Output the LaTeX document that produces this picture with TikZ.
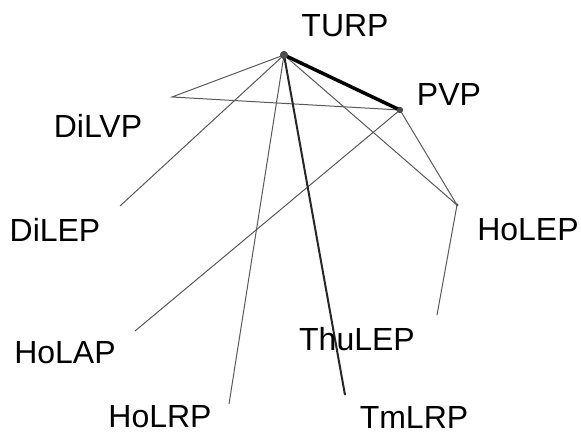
\documentclass[tikz,border=0pt]{standalone}
\usepackage{fontspec}
\setmainfont{Liberation Sans}
\begin{document}
\begin{tikzpicture}[x=1pt,y=-1pt,
  edge/.style={draw=black!65,line width=1pt},
  heavy/.style={draw=black,line width=3.5pt},
  mid/.style={draw=black!85,line width=2pt},
  vtx/.style={circle,fill=black!70,inner sep=0pt},
  lab/.style={font=\fontsize{32}{32}\selectfont,inner sep=0pt,anchor=center}]
\useasboundingbox (0,0) rectangle (581,443);
% vertices
\node[vtx,minimum size=8pt] (turp) at (284,55) {};
\node[vtx,minimum size=6pt] (pvp) at (400,110) {};
\node[vtx,minimum size=3pt] (holep) at (457,205) {};
\coordinate (dilvp) at (172,97);
\coordinate (dilep) at (120,206);
\coordinate (holap) at (135,331);
\coordinate (thulep) at (437,315);
\coordinate (tmlrp) at (345,395);
\coordinate (holrp) at (229,404);
% edges
\draw[edge] (turp.center) -- (dilvp) -- (pvp.center);
\draw[edge] (turp.center) -- (dilep);
\draw[edge] (turp.center) -- (holrp);
\draw[edge] (turp.center) -- (holep.center);
\draw[edge] (pvp.center) -- (holep.center);
\draw[edge] (pvp.center) -- (holap);
\draw[edge] (holep.center) -- (thulep);
\draw[mid] (turp.center) -- (tmlrp);
\draw[heavy] (turp.center) -- (pvp.center);
\node[vtx,minimum size=8pt] at (turp) {};
\node[vtx,minimum size=6pt] at (pvp) {};
% labels
\node[lab] (lturp) at (345,26) {TURP};
\node[lab] (lpvp) at (449,94) {PVP};
\node[lab] (ldilvp) at (98,126) {DiLVP};
\node[lab] (ldilep) at (55,230) {DiLEP};
\node[lab] (lholep) at (528,230) {HoLEP};
\node[lab] (lholap) at (65,353) {HoLAP};
\node[lab] (lthulep) at (357,339) {ThuLEP};
\node[lab] (ltmlrp) at (414,417) {TmLRP};
\node[lab] (lholrp) at (160,417) {HoLRP};
\end{tikzpicture}
\end{document}
